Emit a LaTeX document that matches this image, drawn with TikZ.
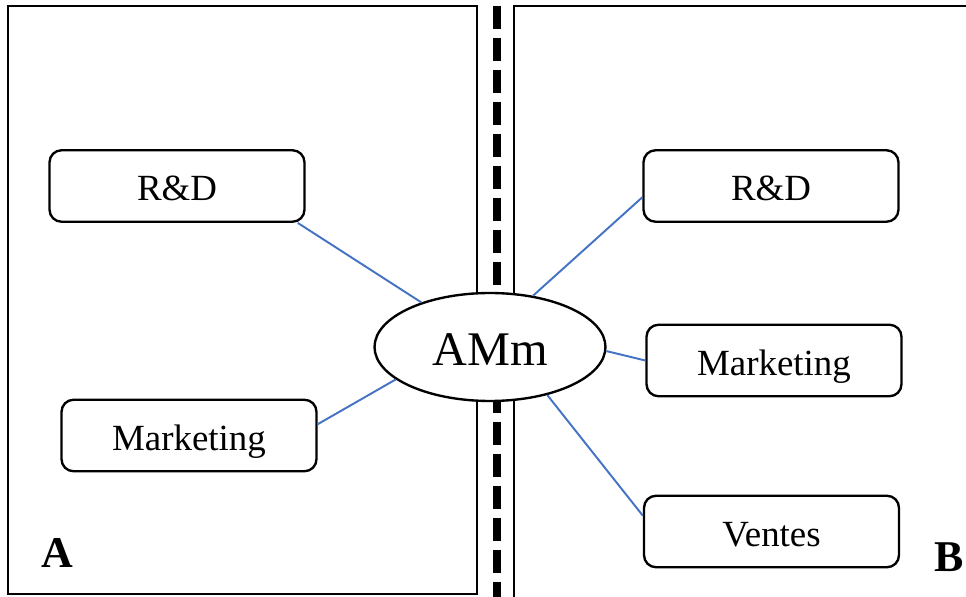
\documentclass[tikz,border=0pt]{standalone}
\usepackage{fontspec}
\setmainfont{Liberation Serif}
\usetikzlibrary{shapes.geometric}
\definecolor{linkblue}{RGB}{68,114,196}

\begin{document}
\begin{tikzpicture}[x=0.02cm, y=-0.02cm,
        unit/.style={draw, line width=1.35pt, rounded corners=0.24cm, minimum width=5.1cm, minimum height=1.43cm, text height=16.6pt, text depth=0pt, fill=white, font=\fontsize{21}{24}\selectfont},
        hub/.style={draw, ellipse, line width=1.35pt, minimum width=4.62cm, minimum height=2.16cm, inner sep=0pt, text height=21.4pt, text depth=0pt, fill=white, font=\fontsize{27.5}{30}\selectfont},
        side/.style={font=\bfseries\fontsize{25}{28}\selectfont},
        link/.style={line width=1.1pt, draw=linkblue}
    ]
        \useasboundingbox (0,0) rectangle (966,597);

        % two firms and the border between them
        \draw[line width=1.35pt] (8,6) rectangle (477,594);
        \draw[line width=1.35pt] (966,6) -- (514,6) -- (514,597);
        \draw[line width=0.16cm, dash pattern=on 0.46cm off 0.18cm] (497,6) -- (497,597);

        \node[unit] (rdA) at (177,186) {R\&D};
        \node[unit] (mkA) at (189,435.5) {Marketing};
        \node[unit] (rdB) at (771,186) {R\&D};
        \node[unit] (mkB) at (774,360.5) {Marketing};
        \node[unit] (vt) at (771.5,531.5) {Ventes};
        \node[hub] (amm) at (490,347) {AMm};
        \node[side] (labA) at (57,553) {A};
        \node[side] (labB) at (949,557) {B};

        \draw[link] (rdA.-17) -- (amm.147);
        \draw[link] (mkA.5) -- (amm.199);
        \draw[link] (amm.50) -- (rdB.185);
        \draw[link] (amm.-2) -- (mkB.180);
        \draw[link] (amm.-40) -- (vt.173);
    \end{tikzpicture}
\end{document}
